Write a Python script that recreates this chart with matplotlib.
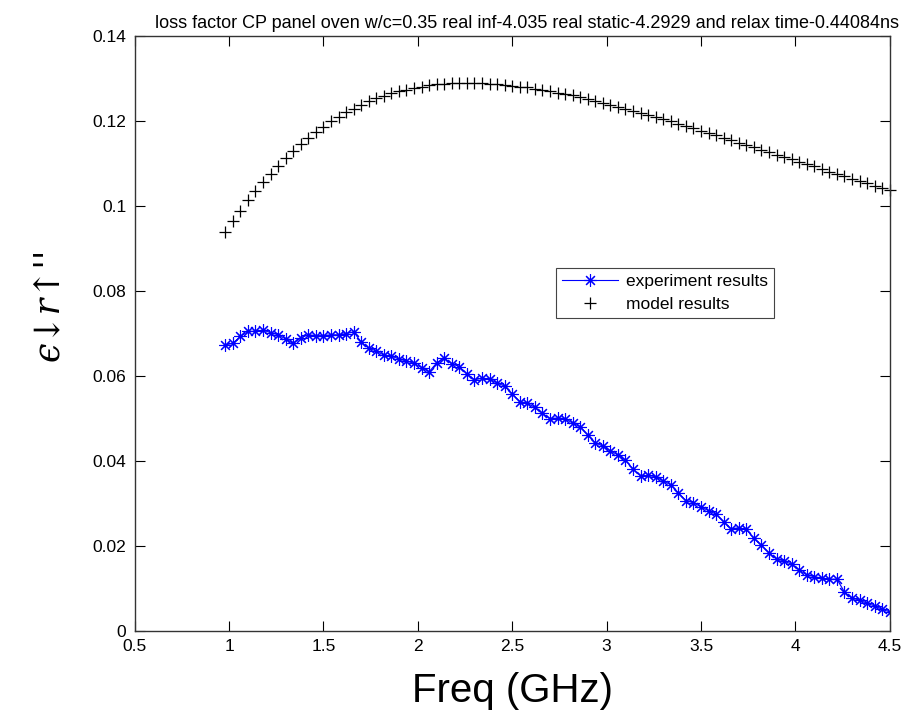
import matplotlib
matplotlib.use("Agg")
import matplotlib.pyplot as plt
import numpy as np

plt.rcParams['font.family'] = ['Liberation Sans', 'DejaVu Sans']

# frequency points (GHz)
freq = np.array([
    0.98, 1.02, 1.06, 1.10, 1.14, 1.18, 1.22, 1.26, 1.30, 1.34, 1.38, 1.42,
    1.46, 1.50, 1.54, 1.58, 1.62, 1.66, 1.70, 1.74, 1.78, 1.82, 1.86, 1.90,
    1.94, 1.98, 2.02, 2.06, 2.10, 2.14, 2.18, 2.22, 2.26, 2.30, 2.34, 2.38,
    2.42, 2.46, 2.50, 2.54, 2.58, 2.62, 2.66, 2.70, 2.74, 2.78, 2.82, 2.86,
    2.90, 2.94, 2.98, 3.02, 3.06, 3.10, 3.14, 3.18, 3.22, 3.26, 3.30, 3.34,
    3.38, 3.42, 3.46, 3.50, 3.54, 3.58, 3.62, 3.66, 3.70, 3.74, 3.78, 3.82,
    3.86, 3.90, 3.94, 3.98, 4.02, 4.06, 4.10, 4.14, 4.18, 4.22, 4.26, 4.30,
    4.34, 4.38, 4.42, 4.46, 4.50])

# measured loss factor
experiment = np.array([
    0.0673, 0.0677, 0.0693, 0.0705, 0.0705, 0.0708, 0.0702, 0.0697, 0.0687,
    0.0677, 0.0690, 0.0697, 0.0695, 0.0695, 0.0697, 0.0697, 0.0700, 0.0704,
    0.0680, 0.0665, 0.0659, 0.0649, 0.0647, 0.0640, 0.0635, 0.0630, 0.0620,
    0.0610, 0.0631, 0.0642, 0.0629, 0.0622, 0.0605, 0.0591, 0.0595, 0.0592,
    0.0584, 0.0576, 0.0558, 0.0540, 0.0536, 0.0526, 0.0512, 0.0500, 0.0501,
    0.0500, 0.0489, 0.0481, 0.0461, 0.0443, 0.0435, 0.0424, 0.0414, 0.0402,
    0.0381, 0.0365, 0.0366, 0.0363, 0.0353, 0.0344, 0.0325, 0.0307, 0.0302,
    0.0292, 0.0283, 0.0275, 0.0257, 0.0240, 0.0243, 0.0239, 0.0218, 0.0202,
    0.0184, 0.0169, 0.0165, 0.0157, 0.0144, 0.0132, 0.0128, 0.0124, 0.0122,
    0.0122, 0.0092, 0.0077, 0.0073, 0.0065, 0.0059, 0.0051, 0.0045])

# Debye model curve
model = np.array([
    0.0939, 0.0965, 0.0989, 0.1013, 0.1035, 0.1056, 0.1076, 0.1095, 0.1113,
    0.1129, 0.1145, 0.1160, 0.1174, 0.1187, 0.1199, 0.1210, 0.1220, 0.1229,
    0.1238, 0.1246, 0.1253, 0.1259, 0.1265, 0.1270, 0.1274, 0.1278, 0.1281,
    0.1284, 0.1286, 0.1287, 0.1289, 0.1289, 0.1290, 0.1289, 0.1289, 0.1288,
    0.1287, 0.1285, 0.1283, 0.1281, 0.1279, 0.1276, 0.1273, 0.1270, 0.1267,
    0.1263, 0.1260, 0.1256, 0.1252, 0.1247, 0.1243, 0.1238, 0.1234, 0.1229,
    0.1224, 0.1219, 0.1214, 0.1209, 0.1204, 0.1199, 0.1193, 0.1188, 0.1183,
    0.1177, 0.1172, 0.1166, 0.1160, 0.1155, 0.1149, 0.1144, 0.1138, 0.1132,
    0.1127, 0.1121, 0.1115, 0.1110, 0.1104, 0.1098, 0.1093, 0.1087, 0.1081,
    0.1076, 0.1070, 0.1064, 0.1059, 0.1053, 0.1048, 0.1042, 0.1037])

xticks = [0.5, 1, 1.5, 2, 2.5, 3, 3.5, 4, 4.5]
yticks = [0, 0.02, 0.04, 0.06, 0.08, 0.1, 0.12, 0.14]

fig = plt.figure(figsize=(9.11, 7.17), dpi=100)
ax = fig.add_axes([0.1478, 0.1199, 0.8289, 0.8299])

# matlab style asterisk marker (8 arms)
ax.plot(freq, experiment, '-', marker=(8, 2, 0), color=(0, 0, 1), lw=0.8,
        ms=9, mew=0.8, label='experiment results')
ax.plot(freq, model, '+', color='k', ms=8, mew=0.9, label='model results',
        clip_on=False)

ax.set_xlim(0.5, 4.5)
ax.set_ylim(0, 0.14)
ax.set_xticks(xticks)
ax.set_yticks(yticks)
ax.set_xticklabels(['%g' % t for t in xticks])
ax.set_yticklabels(['%g' % t for t in yticks])
ax.tick_params(direction='in', top=True, right=True, length=7, width=0.8,
               labelsize=12.5, pad=6)
for s in ax.spines.values():
    s.set_linewidth(1.0)
    s.set_color('#333333')

ax.set_title('loss factor CP panel oven w/c=0.35 real inf-4.035 real static-4.2929 '
             'and relax time-0.44084ns', fontsize=13, pad=6, x=0.52)
ax.set_xlabel('Freq (GHz)', fontsize=29, labelpad=13)
fig.text(0.053, 0.575, "ϵ↓r↑''", rotation=90, fontsize=25, style='italic',
         family='DejaVu Serif', ha='center', va='center')

leg = ax.legend(loc='upper left', bbox_to_anchor=(0.558, 0.61), borderaxespad=0,
                fancybox=False, framealpha=1, edgecolor='#444444',
                fontsize=12.5, handlelength=3.2, handletextpad=0.5,
                borderpad=0.35, labelspacing=0.45)
leg.get_frame().set_linewidth(0.8)

fig.savefig('out.png', dpi=100)
